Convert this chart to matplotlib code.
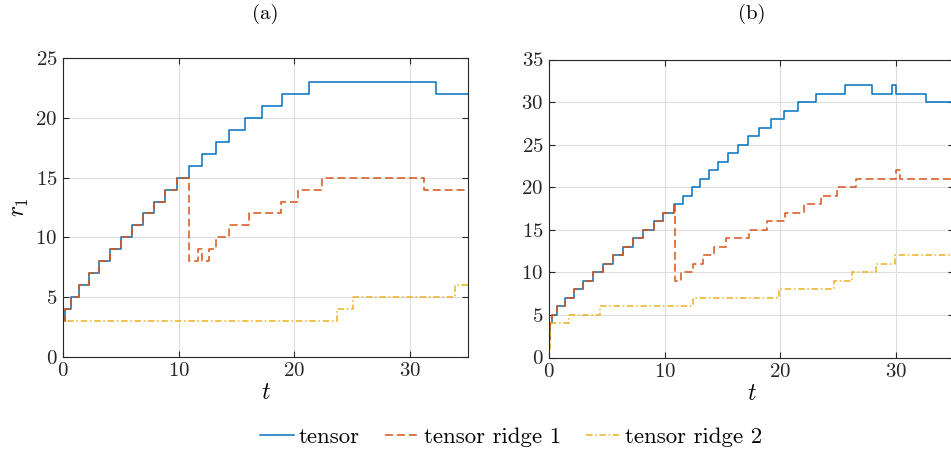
import numpy as np
import matplotlib
matplotlib.use("Agg")
import matplotlib.pyplot as plt

plt.rcParams['font.family'] = ['cmr10', 'DejaVu Serif']
plt.rcParams['mathtext.fontset'] = 'cm'
plt.rcParams['axes.formatter.use_mathtext'] = True

# ===== DATA (step change times and values) =====
t_end = 35

# panel (a)
tensor_a_t = [0, 0.02, 0.17, 0.69, 1.38, 2.25, 3.11, 4.03, 4.98, 5.96, 6.91, 7.89,
              8.84, 9.87, 10.91, 12.0, 13.18, 14.33, 15.69, 17.21, 18.91, 21.24, 32.21]
tensor_a_v = [0, 3, 4, 5, 6, 7, 8, 9, 10, 11, 12, 13,
              14, 15, 16, 17, 18, 19, 20, 21, 22, 23, 22]

ridge1_a_t = [0, 0.02, 0.17, 0.69, 1.38, 2.25, 3.11, 4.03, 4.98, 5.96, 6.91, 7.89,
              8.84, 9.87, 10.91, 11.65, 12.0, 12.6, 13.2, 14.33, 16.07, 18.83, 20.27,
              22.34, 31.17]
ridge1_a_v = [0, 3, 4, 5, 6, 7, 8, 9, 10, 11, 12, 13,
              14, 15, 8, 9, 8, 9, 10, 11, 12, 13, 14,
              15, 14]

ridge2_a_t = [0, 0.02, 23.7, 25.1, 33.85]
ridge2_a_v = [0, 3, 4, 5, 6]

# panel (b)
tensor_b_t = [0, 0.05, 0.26, 0.69, 1.38, 2.13, 2.94, 3.77, 4.64, 5.50, 6.36, 7.23,
              8.15, 9.04, 9.88, 10.77, 11.55, 12.32, 13.07, 13.85, 14.60, 15.43,
              16.30, 17.19, 18.17, 19.15, 20.27, 21.51, 23.06, 25.6, 27.9, 29.65,
              30.0, 32.6]
tensor_b_v = [2, 4, 5, 6, 7, 8, 9, 10, 11, 12, 13, 14,
              15, 16, 17, 18, 19, 20, 21, 22, 23, 24,
              25, 26, 27, 28, 29, 30, 31, 32, 31, 32,
              31, 30]

ridge1_b_t = [0, 0.05, 0.26, 0.69, 1.38, 2.13, 2.94, 3.77, 4.64, 5.50, 6.36, 7.23,
              8.15, 9.04, 9.88, 10.77, 10.93, 11.4, 12.41, 13.27, 14.28, 15.29,
              17.3, 18.83, 20.39, 22.0, 23.5, 24.9, 26.5, 29.95, 30.3]
ridge1_b_v = [2, 4, 5, 6, 7, 8, 9, 10, 11, 12, 13, 14,
              15, 16, 17, 18, 9, 10, 11, 12, 13, 14,
              15, 16, 17, 18, 19, 20, 21, 22, 21]

ridge2_b_t = [0, 0.05, 1.76, 4.43, 12.47, 19.9, 24.65, 26.17, 28.3, 29.92]
ridge2_b_v = [1, 4, 5, 6, 7, 8, 9, 10, 11, 12]

labels = ['tensor', 'tensor ridge 1', 'tensor ridge 2']
titles = ['(a)', '(b)']
ylims = [25, 35]

# ===== STYLE =====
colors = ['#0072BD', '#D95319', '#EDB120']
styles = [dict(linestyle='-'),
          dict(linestyle=(0, (5.2, 2.6))),
          dict(linestyle=(0, (4.2, 1.8, 1.0, 1.8)))]
lw = 1.1

W, H = 951, 454
fig = plt.figure(figsize=(W / 100, H / 100), dpi=100)


def px_axes(left, right, top, bottom):
    return fig.add_axes([left / W, 1 - bottom / H, (right - left) / W, (bottom - top) / H])


ax_a = px_axes(63, 468, 58.3, 356.7)
ax_b = px_axes(549, 954, 59.5, 357.5)

panels = [
    (ax_a, [(tensor_a_t, tensor_a_v), (ridge1_a_t, ridge1_a_v), (ridge2_a_t, ridge2_a_v)]),
    (ax_b, [(tensor_b_t, tensor_b_v), (ridge1_b_t, ridge1_b_v), (ridge2_b_t, ridge2_b_v)]),
]
title_x = [265.5, 751.5]

handles = []
for k, (ax, series) in enumerate(panels):
    for i, (t, v) in enumerate(series):
        tt = np.append(t, t_end)
        vv = np.append(v, v[-1])
        h, = ax.step(tt, vv, where='post', color=colors[i], lw=lw, label=labels[i],
                     **styles[i])
        if k == 0:
            handles.append(h)
    ax.set_xlim(0, t_end)
    ax.set_ylim(0, ylims[k])
    ax.set_xticks([0, 10, 20, 30])
    ax.set_yticks(np.arange(0, ylims[k] + 1, 5))
    ax.grid(True, color='#dedede', lw=0.8)
    ax.set_axisbelow(True)
    ax.tick_params(direction='in', top=True, right=True, length=4, width=0.8,
                   labelsize=15, colors='#262626', pad=4)
    for s in ax.spines.values():
        s.set_color('#262626')
        s.set_linewidth(0.8)
    ax.set_xlabel(r'$t$', fontsize=17, labelpad=1)
    fig.text(title_x[k] / W, 1 - 14 / H, titles[k], fontsize=15, ha='center', va='center')

ax_a.set_ylabel(r'$r_1$', fontsize=17, labelpad=3)

fig.legend(handles=handles, labels=labels, loc='center', bbox_to_anchor=(511 / W, 1 - 437 / H),
           ncol=3, frameon=False, fontsize=16.5, handlelength=1.5, handletextpad=0.2,
           columnspacing=1.1, borderaxespad=0, borderpad=0)

fig.savefig('out.png', dpi=100)
